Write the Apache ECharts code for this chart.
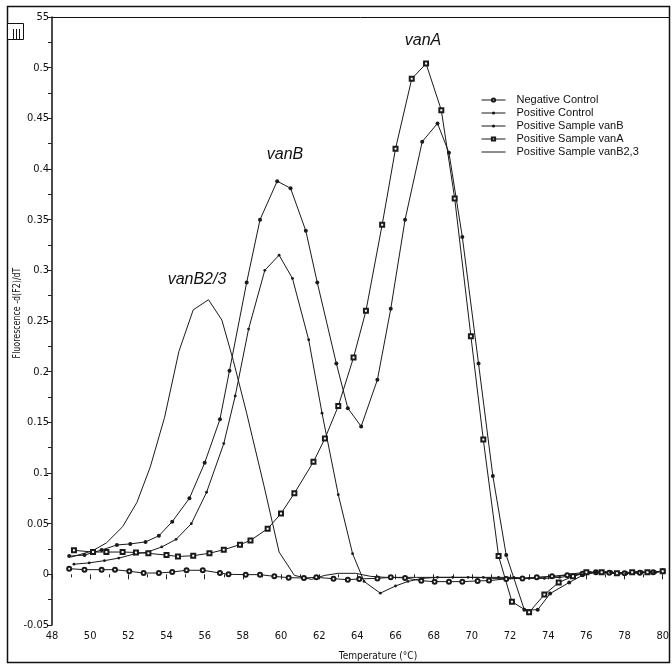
<!DOCTYPE html>
<html>
<head>
<meta charset="utf-8">
<script src="https://cdn.jsdelivr.net/npm/echarts@6/dist/echarts.min.js"></script>
<style>
html,body{margin:0;padding:0;background:#fff;}
#chart{width:672px;height:666px;}
</style>
</head>
<body>
<div id="chart"></div>
<script>
// ---- data (temperature °C, -d(F2)/dT) ----
var negativeControl = [[48.9,0.0056],[49.7,0.0046],[50.6,0.0046],[51.3,0.0046],[52.05,0.003],[52.8,0.0013],[53.6,0.0013],[54.3,0.0023],[55.05,0.004],[55.9,0.004],[56.8,0.0013],[57.25,0],[58.15,-0.0003],[58.9,-0.0003],[59.65,-0.002],[60.4,-0.0033],[61.2,-0.0036],[61.85,-0.003],[62.75,-0.0043],[63.5,-0.0053],[64.1,-0.0045],[65.05,-0.004],[65.75,-0.003],[66.5,-0.0035],[67.35,-0.0063],[68.05,-0.0072],[68.8,-0.0072],[69.5,-0.0072],[70.3,-0.0065],[70.9,-0.0062],[71.8,-0.0045],[72.65,-0.004],[73.4,-0.003],[74.2,-0.002],[75.0,-0.001],[75.8,0.0005],[76.5,0.002],[77.2,0.0015],[78.0,0.001],[78.8,0.0015],[79.5,0.002],[80.0,0.003]];
var positiveControl = [[48.9,0.018],[49.7,0.019],[50.6,0.024],[51.4,0.029],[52.1,0.030],[52.9,0.032],[53.6,0.038],[54.3,0.052],[55.2,0.075],[56.0,0.110],[56.8,0.153],[57.3,0.201],[58.2,0.288],[58.9,0.350],[59.8,0.388],[60.5,0.381],[61.3,0.339],[61.9,0.288],[62.9,0.208],[63.5,0.164],[64.2,0.146],[65.05,0.192],[65.75,0.262],[66.5,0.350],[67.4,0.427],[68.2,0.445],[68.8,0.416],[69.5,0.333],[70.35,0.208],[71.1,0.097],[71.8,0.019],[72.75,-0.035],[73.45,-0.035],[74.1,-0.019],[75.1,-0.008],[75.8,-0.001],[76.5,0.002],[77.3,0.002],[78.1,0.001],[78.9,0.002],[79.6,0.002],[80.0,0.003]];
var sampleVanB = [[49.15,0.010],[49.95,0.0113],[50.75,0.0135],[51.5,0.016],[52.3,0.020],[53.0,0.022],[53.75,0.027],[54.5,0.0345],[55.3,0.050],[56.1,0.081],[57.0,0.129],[57.6,0.176],[58.3,0.242],[59.15,0.300],[59.9,0.315],[60.6,0.292],[61.45,0.2315],[62.15,0.159],[63.0,0.0786],[63.75,0.0204],[64.35,-0.007],[65.2,-0.0186],[66.0,-0.0115],[66.65,-0.007],[67.4,-0.004],[68.2,-0.003],[69.0,-0.003],[69.8,-0.003],[70.6,-0.003],[71.4,-0.003],[72.2,-0.003],[73.0,-0.004],[73.8,-0.004],[74.6,-0.003],[75.4,-0.001],[76.2,0.002],[77.0,0.002],[77.8,0.001],[78.6,0.002],[79.4,0.002],[80.0,0.003]];
var sampleVanA = [[49.15,0.0237],[50.15,0.022],[50.85,0.022],[51.7,0.022],[52.4,0.0216],[53.05,0.0207],[54.0,0.019],[54.6,0.0176],[55.4,0.0184],[56.25,0.0208],[57.0,0.0243],[57.85,0.0293],[58.4,0.0335],[59.3,0.045],[60.0,0.060],[60.7,0.080],[61.7,0.111],[62.3,0.134],[63.0,0.166],[63.8,0.214],[64.45,0.260],[65.3,0.345],[66.0,0.420],[66.85,0.489],[67.6,0.504],[68.4,0.458],[69.1,0.371],[69.95,0.235],[70.6,0.133],[71.4,0.018],[72.1,-0.027],[73.0,-0.0375],[73.8,-0.020],[74.55,-0.008],[75.3,-0.002],[76.0,0.002],[76.8,0.002],[77.6,0.001],[78.4,0.002],[79.2,0.002],[80.0,0.003]];
var sampleVanB23 = [[49.0,0.017],[50.1,0.023],[50.85,0.031],[51.7,0.047],[52.45,0.071],[53.15,0.106],[53.9,0.155],[54.65,0.220],[55.4,0.261],[56.2,0.271],[56.9,0.251],[57.5,0.211],[58.2,0.159],[59.1,0.088],[59.9,0.022],[60.7,-0.001],[61.6,-0.005],[62.3,-0.001],[63.0,0.001],[63.9,0.001],[64.7,-0.002],[65.5,-0.003],[66.3,-0.003],[67.1,-0.003],[67.9,-0.003],[68.7,-0.003],[69.5,-0.003],[70.3,-0.003],[71.1,-0.004],[71.9,-0.004],[72.7,-0.004],[73.5,-0.003],[74.3,-0.002],[75.1,0.0],[75.9,0.002],[76.7,0.002],[77.5,0.001],[78.3,0.002],[79.1,0.002],[80.0,0.003]];

var seriesNames = ['Negative Control','Positive Control','Positive Sample vanB','Positive Sample vanA','Positive Sample vanB2,3'];
var peakLabels = ['vanA','vanB','vanB2/3'];
var xTitle = 'Temperature (°C)';
var yTitle = 'Fluorescence -d(F2)/dT';

var FONT = "'Liberation Sans Narrow','Arial Narrow','DejaVu Sans Condensed','Liberation Sans',Arial,sans-serif";
var FONT2 = "'Liberation Sans',Arial,sans-serif";
var INK = '#1a1a1a';

function mk(name, data, symbol, size, bw){
  return {
    name: name, type: 'line', data: data,
    symbol: symbol, symbolSize: size, showSymbol: symbol !== 'none',
    lineStyle: {color: INK, width: 1},
    itemStyle: {color: INK, borderColor: INK, borderWidth: bw},
    emphasis: {disabled: true},
    animation: false, clip: false
  };
}

var chart = echarts.init(document.getElementById('chart'), null, {renderer: 'canvas'});
chart.setOption({
  backgroundColor: '#fff',
  animation: false,
  textStyle: {fontFamily: FONT, color: '#111'},
  grid: {left: 52, right: 4, top: 17, bottom: 41, containLabel: false},
  legend: {
    orient: 'vertical', left: 481, top: 94, padding: 0,
    itemWidth: 24, itemHeight: 4, itemGap: 1,
    lineStyle: {width: 1},
    data: [
      {name: seriesNames[0]},
      {name: seriesNames[1]},
      {name: seriesNames[2]},
      {name: seriesNames[3]},
      {name: seriesNames[4], itemStyle: {opacity: 0}}
    ],
    textStyle: {fontFamily: FONT2, fontSize: 11, lineHeight: 12, color: '#111', padding: [0,0,0,6]},
    selectedMode: false
  },
  xAxis: {
    type: 'value', min: 48, max: 80, interval: 2, offset: 3,
    axisLine: {show: false},
    axisTick: {show: true, length: 5, lineStyle: {color: '#222'}},
    minorTick: {show: true, splitNumber: 2, length: 3, lineStyle: {color: '#222'}},
    axisLabel: {fontSize: 11, margin: 3, color: '#111', fontFamily: FONT},
    splitLine: {show: false}, minorSplitLine: {show: false}
  },
  yAxis: {
    type: 'value', min: -0.05, max: 0.55, interval: 0.05,
    axisLine: {show: true, onZero: false, lineStyle: {color: '#111', width: 1.5}},
    axisTick: {show: true, length: 5, lineStyle: {color: '#222'}},
    minorTick: {show: true, splitNumber: 2, length: 4, lineStyle: {color: '#222'}},
    axisLabel: {fontSize: 11, margin: 3, color: '#111', fontFamily: FONT,
      formatter: function(v){
        var r = Math.round(v*100)/100;
        if (Math.abs(r - 0.55) < 1e-9) return '55';
        return String(r);
      }},
    splitLine: {show: false}, minorSplitLine: {show: false}
  },
  series: [
    mk(seriesNames[0], negativeControl, 'emptyCircle', 4, 0.8),
    mk(seriesNames[1], positiveControl, 'circle', 4, 0),
    mk(seriesNames[2], sampleVanB, 'circle', 2.8, 0),
    mk(seriesNames[3], sampleVanA, 'emptyRect', 4, 0.7),
    mk(seriesNames[4], sampleVanB23, 'none', 0, 0)
  ],
  graphic: [
    {type: 'rect', shape: {x: 7.5, y: 6.5, width: 662, height: 656}, style: {fill: null, stroke: '#111', lineWidth: 1.5}, silent: true},
    {type: 'line', shape: {x1: 52, y1: 17.5, x2: 669, y2: 17.5}, style: {stroke: '#111', lineWidth: 1}, silent: true},
    {type: 'rect', shape: {x: 7.5, y: 23.5, width: 16, height: 16}, style: {fill: '#fff', stroke: '#111', lineWidth: 1}, silent: true},
    {type: 'line', shape: {x1: 13.5, y1: 29, x2: 13.5, y2: 39}, style: {stroke: '#111', lineWidth: 1}, silent: true},
    {type: 'line', shape: {x1: 16.5, y1: 29, x2: 16.5, y2: 39}, style: {stroke: '#111', lineWidth: 1}, silent: true},
    {type: 'line', shape: {x1: 19.5, y1: 29, x2: 19.5, y2: 39}, style: {stroke: '#111', lineWidth: 1}, silent: true},
    {type: 'text', x: 17, y: 313, rotation: Math.PI/2, scaleX: 0.8, style: {text: yTitle, fontSize: 11, fontFamily: FONT, fill: '#111', align: 'center', verticalAlign: 'middle'}, silent: true},
    {type: 'text', x: 378, y: 656, scaleX: 0.92, style: {text: xTitle, fontSize: 11, fontFamily: FONT, fill: '#111', align: 'center', verticalAlign: 'middle'}, silent: true},
    {type: 'text', x: 423, y: 41, style: {text: peakLabels[0], fontSize: 16, fontStyle: 'italic', fontFamily: FONT2, fill: '#111', align: 'center', verticalAlign: 'middle'}, silent: true},
    {type: 'text', x: 285, y: 155, style: {text: peakLabels[1], fontSize: 16, fontStyle: 'italic', fontFamily: FONT2, fill: '#111', align: 'center', verticalAlign: 'middle'}, silent: true},
    {type: 'text', x: 197, y: 280, style: {text: peakLabels[2], fontSize: 16, fontStyle: 'italic', fontFamily: FONT2, fill: '#111', align: 'center', verticalAlign: 'middle'}, silent: true}
  ]
});
</script>
</body>
</html>
